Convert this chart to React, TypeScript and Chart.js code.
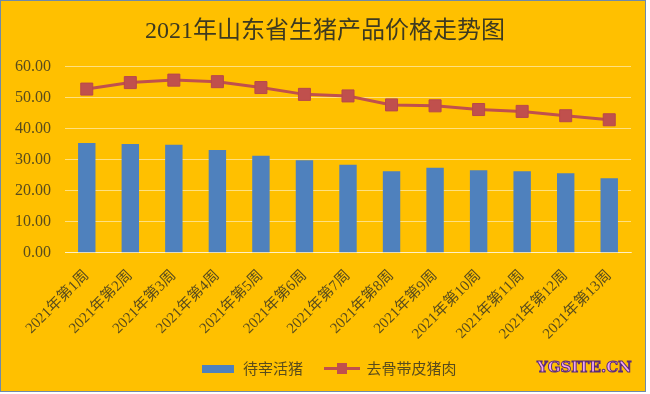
import React, { useEffect, useRef } from "react";
import { Chart, registerables } from "chart.js";

Chart.register(...registerables);

const categories = [
  "2021年第1周", "2021年第2周", "2021年第3周", "2021年第4周", "2021年第5周",
  "2021年第6周", "2021年第7周", "2021年第8周", "2021年第9周", "2021年第10周",
  "2021年第11周", "2021年第12周", "2021年第13周",
];
const livePig = [35.4, 35.1, 34.8, 33.1, 31.3, 29.8, 28.4, 26.3, 27.4, 26.6, 26.3, 25.6, 24.0];
const porkSkin = [52.8, 54.9, 55.7, 55.2, 53.3, 51.1, 50.6, 47.7, 47.4, 46.2, 45.6, 44.2, 42.9];
const seriesNames = ["待宰活猪", "去骨带皮猪肉"];
const titleText = "2021年山东省生猪产品价格走势图";

const BG = "#FFC000";
const BAR = "#4F81BD";
const LINE = "#C0504D";
const TEXT = "#5a4c1c";

function makeBarIcon() {
  const c = document.createElement("canvas");
  c.width = 32; c.height = 8;
  const ctx = c.getContext("2d")!;
  ctx.fillStyle = BAR;
  ctx.fillRect(0, 0, 32, 8);
  return c;
}
function makeLineIcon() {
  const c = document.createElement("canvas");
  c.width = 36; c.height = 11;
  const ctx = c.getContext("2d")!;
  ctx.strokeStyle = LINE;
  ctx.lineWidth = 3;
  ctx.beginPath();
  ctx.moveTo(0, 5.5); ctx.lineTo(36, 5.5);
  ctx.stroke();
  ctx.fillStyle = LINE;
  ctx.fillRect(13, 0, 10, 11);
  return c;
}

const shiftPlugin = {
  id: "shiftBlocks",
  afterLayout(chart: any) {
    const l = chart.legend;
    if (l) { l.left += 13; l.right += 13; }
    const t = chart.titleBlock;
    if (t) { t.left += 9; t.right += 9; }
  },
};

export default function App() {
  const ref = useRef<HTMLCanvasElement | null>(null);
  useEffect(() => {
    if (!ref.current) return;
    const barIcon = makeBarIcon();
    const lineIcon = makeLineIcon();
    const chart = new Chart(ref.current, {
      data: {
        labels: categories,
        datasets: [
          {
            type: "bar",
            label: seriesNames[0],
            data: livePig,
            backgroundColor: BAR,
            barPercentage: 0.4,
            categoryPercentage: 1,
            order: 2,
          },
          {
            type: "line",
            label: seriesNames[1],
            data: porkSkin,
            borderColor: LINE,
            backgroundColor: LINE,
            borderWidth: 3,
            pointStyle: "rect",
            pointRadius: 8.5,
            pointBackgroundColor: LINE,
            pointBorderColor: "#b8484a",
            pointBorderWidth: 1,
            tension: 0,
            order: 1,
          },
        ],
      },
      plugins: [shiftPlugin],
      options: {
        animation: false,
        responsive: false,
        maintainAspectRatio: false,
        layout: { padding: { left: 0, right: 14, top: 8, bottom: 5 } },
        plugins: {
          title: {
            display: true,
            text: titleText,
            color: "#3e3a20",
            font: { family: "'Liberation Serif', 'Noto Sans CJK SC'", size: 24, weight: "normal" },
            padding: { top: 8, bottom: 21 },
          },
          legend: {
            position: "bottom",
            labels: {
              color: TEXT,
              font: { family: "'Noto Sans CJK SC'", size: 15 },
              usePointStyle: true,
              pointStyleWidth: 34,
              boxHeight: 11,
              padding: 22,
              generateLabels: (ch: any) => {
                const items = Chart.defaults.plugins.legend.labels.generateLabels(ch);
                items.sort((a: any, b: any) => a.datasetIndex - b.datasetIndex);
                items.forEach((it: any) => {
                  it.pointStyle = it.datasetIndex === 0 ? barIcon : lineIcon;
                  it.fontColor = TEXT;
                });
                return items;
              },
            },
          },
          tooltip: { enabled: false },
        },
        scales: {
          x: {
            grid: { display: false, drawTicks: false },
            border: { display: true, color: "rgba(255,255,255,0.55)", width: 1 },
            ticks: {
              color: TEXT,
              font: { family: "'Liberation Serif', 'Noto Sans CJK SC'", size: 15 },
              minRotation: 45,
              maxRotation: 45,
              padding: 14,
              autoSkip: false,
            },
            afterFit: (scale: any) => { scale.height -= 18; },
          },
          y: {
            min: 0,
            max: 60,
            grid: { color: "rgba(255,255,255,0.5)", drawTicks: false },
            border: { display: false },
            ticks: {
              stepSize: 10,
              color: TEXT,
              padding: 14,
              font: { family: "'Liberation Serif'", size: 16 },
              callback: (v: any) => Number(v).toFixed(2),
            },
          },
        },
      },
    } as any);
    return () => chart.destroy();
  }, []);

  return (
    <div style={{ position: "fixed", left: 0, top: 0, width: 650, height: 394, background: "#ffffff" }}>
      <div
        style={{
          position: "absolute", left: 0, top: 0, width: 644, height: 390,
          border: "1px solid #6f8aa8", background: BG, overflow: "hidden",
        }}
      >
        <canvas ref={ref} width={644} height={390} style={{ display: "block" }} />
        <span
          style={{
            position: "absolute", left: 536, top: 357,
            fontFamily: "'DejaVu Serif', serif", fontWeight: "bold", fontSize: 15,
            color: "#f3a8f0", WebkitTextStroke: "1px #5b2a78", letterSpacing: 0,
          }}
        >
          YGSITE.CN
        </span>
      </div>
    </div>
  );
}
